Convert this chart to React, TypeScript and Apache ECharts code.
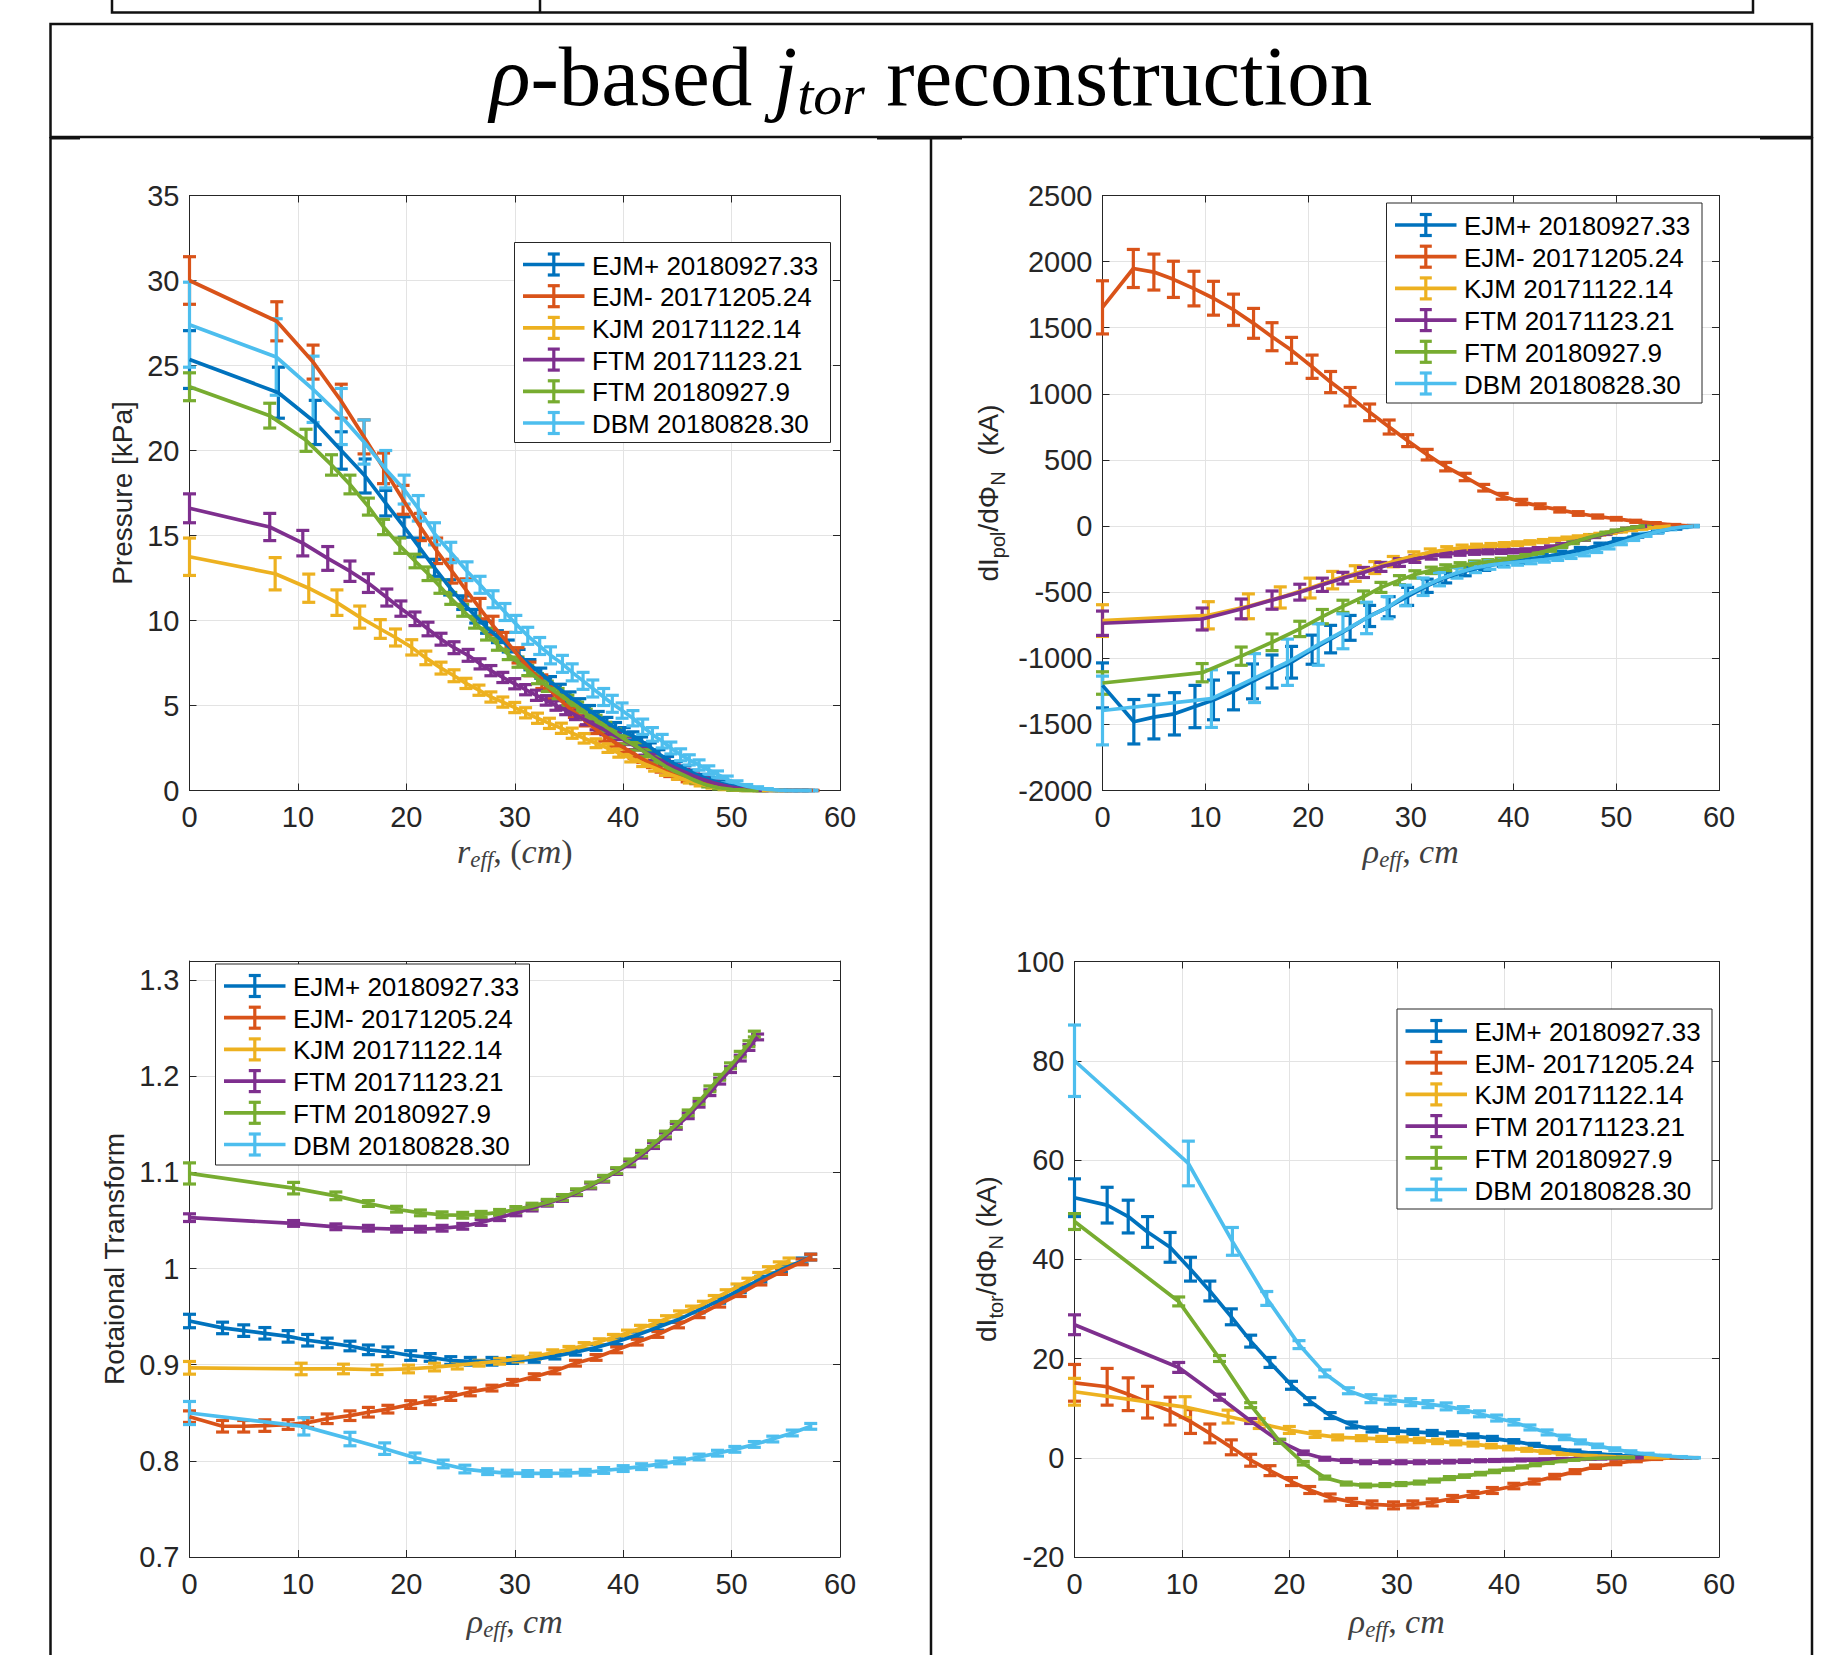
import React, { useEffect, useRef } from "react";
import * as echarts from "echarts";

// ---------- names & colours ----------
const SERIES_NAMES = [
  "EJM+ 20180927.33",
  "EJM- 20171205.24",
  "KJM 20171122.14",
  "FTM 20171123.21",
  "FTM 20180927.9",
  "DBM 20180828.30",
];
const COLORS = ["#0072BD", "#D95319", "#EDB120", "#7E2F8E", "#77AC30", "#4DBEEE"];

// ---------- Panel 1: Pressure [kPa] vs r_eff  ([x, y, err]) ----------
const P1_EJMp = [[0,25.35,1.7],[8.2,23.4,1.5],[11.6,21.65,1.3],[14.0,20.0,1.1],[16.2,18.5,1.0],[18.1,16.9,0.75],[19.8,15.5,0.6],[21.2,14.3,0.55],[22.6,13.1,0.5],[24.0,11.95,0.45],[25.2,11.05,0.4],[26.4,10.25,0.4],[27.4,9.6,0.35],[28.4,9.05,0.35],[29.4,8.5,0.35],[30.4,7.95,0.35],[31.4,7.4,0.3],[32.4,6.9,0.3],[33.3,6.4,0.3],[34.2,5.95,0.3],[35.1,5.5,0.3],[36.0,5.1,0.3],[36.9,4.7,0.3],[37.7,4.35,0.3],[38.5,4.0,0.3],[39.3,3.7,0.3],[40.1,3.45,0.25],[40.9,3.2,0.25],[41.7,2.9,0.25],[42.5,2.55,0.25],[43.3,2.15,0.25],[44.1,1.8,0.2],[44.9,1.5,0.2],[45.7,1.25,0.2],[46.5,1.0,0.2],[47.3,0.8,0.15],[48.1,0.6,0.15],[48.9,0.44,0.12],[49.7,0.31,0.1],[50.5,0.22,0.08],[51.3,0.14,0.06],[52.1,0.08,0.05],[52.9,0.04,0.04],[53.7,0.02,0.03],[54.6,0.01,0.02],[55.5,0,0.01],[56.3,0,0.01],[57.1,0,0.01]];
const P1_EJMm = [[0,30.0,1.4],[8.05,27.6,1.15],[11.4,25.2,1.0],[14.0,22.9,1.0],[16.1,20.8,1.0],[17.9,18.95,0.9],[19.7,17.1,0.85],[21.3,15.5,0.8],[22.8,14.1,0.75],[24.2,12.9,0.7],[25.5,11.8,0.65],[26.8,10.7,0.6],[28.0,9.7,0.55],[29.2,8.8,0.5],[30.3,7.95,0.45],[31.4,7.15,0.4],[32.5,6.4,0.4],[33.5,5.75,0.35],[34.5,5.15,0.35],[35.5,4.6,0.3],[36.5,4.1,0.3],[37.4,3.65,0.3],[38.3,3.2,0.3],[39.2,2.85,0.25],[40.1,2.5,0.25],[41.0,2.15,0.25],[41.8,1.85,0.2],[42.7,1.55,0.2],[43.5,1.28,0.2],[44.3,1.02,0.2],[45.1,0.82,0.15],[45.9,0.66,0.15],[46.7,0.52,0.12],[47.4,0.41,0.1],[48.2,0.31,0.1],[49.0,0.23,0.08],[49.7,0.16,0.06],[50.5,0.11,0.05],[51.2,0.07,0.04],[52.0,0.05,0.03],[52.7,0.03,0.02],[53.4,0.02,0.02],[54.2,0.01,0.01],[55.0,0,0.01],[55.7,0,0.01],[56.5,0,0.01],[57.5,0,0.01]];
const P1_KJM = [[0,13.75,1.1],[7.9,12.75,0.95],[11.0,11.9,0.83],[13.6,11.05,0.75],[15.7,10.2,0.65],[17.6,9.5,0.55],[19.0,9.0,0.5],[20.5,8.42,0.45],[21.8,7.8,0.4],[23.2,7.2,0.35],[24.4,6.75,0.35],[25.5,6.3,0.3],[26.7,5.9,0.3],[27.8,5.5,0.3],[28.9,5.2,0.3],[30.0,4.88,0.3],[31.0,4.57,0.3],[32.1,4.25,0.3],[33.2,3.95,0.3],[34.3,3.66,0.3],[35.3,3.37,0.3],[36.4,3.07,0.28],[37.5,2.78,0.26],[38.6,2.49,0.25],[39.6,2.2,0.24],[40.7,1.9,0.22],[41.8,1.61,0.2],[42.9,1.32,0.18],[43.9,1.05,0.16],[45.0,0.8,0.14],[46.1,0.56,0.12],[47.1,0.37,0.1],[48.2,0.22,0.08],[49.3,0.11,0.06],[50.4,0.05,0.04],[51.5,0.02,0.03],[52.6,0.01,0.02],[53.7,0,0.01],[54.8,0,0.01]];
const P1_FTM1 = [[0,16.6,0.85],[7.4,15.5,0.8],[10.45,14.55,0.75],[12.75,13.65,0.7],[14.8,12.9,0.6],[16.5,12.2,0.55],[18.2,11.35,0.5],[19.5,10.7,0.45],[20.8,10.1,0.4],[22.0,9.5,0.4],[23.2,8.9,0.35],[24.4,8.4,0.35],[25.7,7.95,0.35],[26.8,7.45,0.3],[27.8,7.05,0.3],[28.9,6.65,0.3],[30.0,6.28,0.3],[31.0,5.93,0.3],[32.0,5.6,0.3],[32.9,5.3,0.28],[33.8,5.0,0.28],[34.7,4.72,0.26],[35.6,4.43,0.26],[36.6,4.12,0.25],[37.5,3.82,0.25],[38.4,3.52,0.24],[39.3,3.22,0.23],[40.2,2.92,0.22],[41.1,2.6,0.2],[42.0,2.28,0.2],[42.9,1.95,0.18],[43.8,1.65,0.16],[44.7,1.36,0.15],[45.6,1.1,0.14],[46.5,0.85,0.12],[47.4,0.64,0.1],[48.3,0.46,0.08],[49.2,0.3,0.07],[50.1,0.18,0.05],[51.0,0.09,0.04],[51.9,0.04,0.03],[52.8,0.01,0.02]];
const P1_FTM2 = [[0,23.75,0.82],[7.4,22.05,0.73],[10.75,20.6,0.65],[13.1,19.15,0.6],[14.8,18.0,0.55],[16.5,16.7,0.5],[17.9,15.5,0.45],[19.4,14.4,0.45],[20.8,13.5,0.4],[22.0,12.75,0.4],[23.1,12.0,0.4],[24.1,11.3,0.35],[25.2,10.6,0.35],[26.3,9.9,0.35],[27.4,9.2,0.35],[28.4,8.6,0.35],[29.4,8.0,0.3],[30.3,7.55,0.3],[31.2,7.06,0.3],[32.1,6.58,0.3],[33.0,6.13,0.3],[34.0,5.7,0.3],[34.9,5.3,0.3],[35.8,4.9,0.3],[36.6,4.5,0.28],[37.5,4.14,0.28],[38.4,3.75,0.26],[39.3,3.37,0.25],[40.2,2.98,0.24],[41.2,2.6,0.22],[42.1,2.2,0.2],[43.0,1.8,0.18],[43.9,1.42,0.16],[44.8,1.13,0.15],[45.8,0.84,0.13],[46.7,0.56,0.11],[47.8,0.3,0.09],[48.8,0.16,0.07],[50.1,0.06,0.05],[51.3,0.02,0.03],[52.5,0,0.02]];
const P1_DBM = [[0,27.4,2.5],[8.0,25.5,2.25],[11.4,23.6,1.95],[14.0,22.0,1.65],[16.1,20.5,1.3],[18.1,18.9,1.1],[19.8,17.7,0.85],[21.1,16.6,0.75],[22.6,15.1,0.65],[24.1,14.0,0.6],[25.6,12.9,0.55],[26.8,12.1,0.5],[28.0,11.25,0.5],[29.1,10.5,0.5],[30.1,9.8,0.5],[31.2,9.1,0.5],[32.3,8.5,0.5],[33.3,7.95,0.5],[34.4,7.45,0.5],[35.3,6.95,0.5],[36.3,6.45,0.5],[37.2,6.0,0.5],[38.2,5.5,0.5],[39.0,5.1,0.5],[39.9,4.7,0.45],[40.9,4.25,0.45],[41.8,3.75,0.45],[42.7,3.3,0.4],[43.6,2.9,0.4],[44.4,2.5,0.35],[45.3,2.1,0.35],[46.1,1.8,0.3],[47.0,1.5,0.3],[47.9,1.2,0.25],[48.7,0.95,0.2],[49.6,0.65,0.2],[50.5,0.42,0.15],[51.4,0.25,0.1],[52.4,0.14,0.08],[53.3,0.06,0.05],[54.4,0.02,0.03],[55.5,0,0.02],[56.5,0,0.02],[57.4,0,0.02]];

// ---------- Panel 2: dIpol/dPhiN (kA) vs rho_eff ----------
const P2_EJMp = [[0,-1205,170],[3.05,-1480,168],[5.0,-1445,165],[7.0,-1420,160],[9.0,-1365,160],[10.8,-1315,150],[12.75,-1250,140],[14.6,-1175,132],[16.5,-1100,125],[18.4,-1030,120],[20.4,-935,110],[22.2,-855,104],[24.1,-770,94],[26.0,-680,80],[27.9,-610,76],[29.7,-532,68],[31.6,-452,50],[33.4,-390,40],[35.3,-342,34],[37.2,-305,30],[39.0,-278,26],[40.9,-258,24],[42.8,-236,22],[44.6,-210,20],[46.5,-180,18],[48.4,-145,16],[50.2,-108,14],[52.1,-72,12],[54.0,-42,10],[55.8,-16,8],[57.5,0,5]];
const P2_EJMm = [[0,1654,201],[3.0,1948,144],[5.0,1921,136],[6.9,1866,137],[8.9,1796,131],[10.8,1723,128],[12.75,1636,118],[14.7,1533,113],[16.5,1432,106],[18.4,1329,98],[20.4,1205,88],[22.2,1089,80],[24.1,978,70],[26.0,860,63],[27.9,749,53],[29.7,646,45],[31.6,540,40],[33.4,449,32],[35.3,371,28],[37.1,290,25],[38.9,225,22],[40.8,182,20],[42.6,150,18],[44.5,122,16],[46.3,95,14],[48.2,72,12],[50.0,55,10],[51.9,36,8],[53.8,20,6],[55.7,8,4],[57.5,0,2]];
const P2_KJM = [[0,-715,120],[10.3,-675,103],[14.2,-607,94],[17.3,-540,80],[20.2,-469,75],[22.4,-409,66],[24.6,-359,59],[26.5,-314,45],[28.3,-269,39],[30.3,-225,30],[31.9,-198,25],[33.5,-178,22],[35.0,-164,20],[36.4,-155,18],[37.8,-148,16],[39.1,-140,15],[40.4,-133,14],[41.6,-124,13],[42.9,-114,12],[44.0,-104,11],[45.2,-93,10],[46.3,-83,9],[47.4,-72,8],[48.4,-62,7],[49.5,-50,6],[50.5,-40,5],[51.5,-30,4],[52.5,-21,3],[53.4,-13,3],[54.4,-6,2],[55.3,0,2]];
const P2_FTM1 = [[0,-735,92],[9.7,-703,83],[13.5,-627,75],[16.5,-560,69],[19.2,-500,60],[21.4,-444,50],[23.4,-394,44],[25.4,-351,38],[27.1,-309,34],[28.9,-276,29],[30.4,-250,25],[32.0,-228,22],[33.4,-212,20],[34.8,-203,18],[36.2,-198,16],[37.5,-195,15],[38.8,-193,14],[40.0,-190,13],[41.2,-184,12],[42.4,-174,11],[43.6,-160,10],[44.7,-142,9],[45.8,-122,8],[46.9,-100,8],[47.9,-80,7],[49.0,-58,6],[50.0,-38,5],[51.0,-20,4],[52.0,-8,3],[53.0,0,2]];
const P2_FTM2 = [[0,-1187,85],[9.7,-1109,69],[13.5,-984,69],[16.5,-879,63],[19.2,-778,58],[21.4,-685,54],[23.4,-607,46],[25.4,-535,44],[27.1,-464,38],[28.9,-409,34],[30.4,-366,28],[32.0,-335,24],[33.4,-315,22],[34.8,-297,20],[36.2,-282,18],[37.5,-270,16],[38.8,-258,15],[40.0,-245,14],[41.2,-228,13],[42.4,-205,12],[43.6,-180,11],[44.7,-152,10],[45.8,-124,9],[46.9,-97,8],[47.9,-74,7],[49.0,-52,6],[50.0,-35,5],[51.0,-20,4],[52.0,-8,3],[52.8,0,2]];
const P2_DBM = [[0,-1395,260],[10.6,-1305,218],[14.8,-1150,185],[18.0,-1030,175],[21.0,-896,157],[23.4,-796,132],[25.7,-695,119],[27.7,-617,84],[29.5,-525,78],[31.2,-459,66],[32.8,-402,50],[34.5,-354,40],[36.3,-314,38],[37.7,-295,32],[39.1,-282,28],[40.4,-272,24],[41.7,-263,22],[43.0,-253,20],[44.3,-240,20],[45.6,-225,20],[46.9,-205,20],[48.1,-180,20],[49.3,-155,18],[50.5,-125,16],[51.7,-95,14],[52.9,-66,12],[54.1,-40,10],[55.3,-20,8],[56.4,-7,5],[57.5,0,3]];

// ---------- Panel 3: Rotational transform vs rho_eff ----------
const P3_EJMp = [[0,0.9455,0.007],[3.05,0.9383,0.006],[5.0,0.9355,0.006],[6.95,0.9327,0.006],[9.1,0.9295,0.006],[10.9,0.9255,0.006],[12.7,0.9227,0.005],[14.8,0.9195,0.005],[16.5,0.9155,0.005],[18.3,0.9135,0.005],[20.4,0.9096,0.005],[22.2,0.9076,0.004],[24.1,0.9044,0.004],[25.9,0.9036,0.004],[27.9,0.9036,0.004],[29.8,0.9044,0.003],[31.8,0.9056,0.003],[33.7,0.909,0.003],[35.6,0.913,0.003],[37.5,0.918,0.003],[39.4,0.924,0.003],[41.3,0.931,0.003],[43.2,0.939,0.003],[45.1,0.947,0.003],[47.0,0.957,0.003],[48.9,0.967,0.003],[50.8,0.978,0.003],[52.7,0.989,0.003],[54.6,0.999,0.003],[56.5,1.008,0.003],[57.3,1.012,0.003]];
const P3_EJMm = [[0,0.846,0.006],[3.05,0.836,0.006],[5.0,0.836,0.006],[6.95,0.8367,0.006],[9.1,0.8378,0.005],[10.9,0.8398,0.005],[12.7,0.8438,0.005],[14.8,0.847,0.005],[16.5,0.8506,0.005],[18.3,0.8538,0.004],[20.4,0.8586,0.004],[22.2,0.8625,0.004],[24.1,0.8669,0.004],[25.9,0.8717,0.004],[27.9,0.8757,0.003],[29.8,0.8817,0.003],[31.8,0.8876,0.003],[33.7,0.8936,0.003],[35.6,0.9016,0.003],[37.5,0.9076,0.003],[39.4,0.9155,0.003],[41.3,0.9235,0.003],[43.2,0.9315,0.003],[45.1,0.9414,0.003],[47.0,0.952,0.003],[48.9,0.963,0.003],[50.8,0.974,0.003],[52.7,0.986,0.003],[54.6,0.997,0.003],[56.5,1.007,0.003],[57.3,1.012,0.003]];
const P3_KJM = [[0,0.8968,0.0066],[10.3,0.8956,0.006],[14.2,0.8956,0.005],[17.3,0.8948,0.005],[20.2,0.8956,0.004],[22.6,0.8976,0.004],[24.7,0.8996,0.004],[26.7,0.9016,0.003],[28.6,0.9036,0.003],[30.3,0.906,0.003],[31.9,0.909,0.003],[33.5,0.9125,0.003],[35.0,0.916,0.003],[36.4,0.92,0.003],[37.8,0.924,0.003],[39.1,0.9285,0.003],[40.4,0.933,0.003],[41.6,0.938,0.003],[42.9,0.943,0.003],[44.0,0.948,0.003],[45.2,0.953,0.003],[46.3,0.958,0.003],[47.4,0.963,0.003],[48.4,0.969,0.003],[49.5,0.975,0.003],[50.5,0.981,0.003],[51.5,0.987,0.003],[52.5,0.993,0.003],[53.4,0.999,0.003],[54.4,1.004,0.003],[55.3,1.008,0.003]];
const P3_FTM1 = [[0,1.053,0.004],[9.6,1.047,0.003],[13.5,1.0435,0.003],[16.5,1.042,0.003],[19.1,1.041,0.003],[21.3,1.041,0.003],[23.3,1.042,0.003],[25.2,1.044,0.003],[26.9,1.048,0.003],[28.6,1.053,0.003],[30.1,1.058,0.003],[31.6,1.063,0.003],[33.0,1.068,0.003],[34.4,1.073,0.003],[35.7,1.079,0.003],[37.0,1.086,0.003],[38.2,1.093,0.003],[39.4,1.101,0.003],[40.6,1.109,0.003],[41.7,1.118,0.003],[42.8,1.128,0.003],[43.9,1.138,0.003],[44.9,1.148,0.003],[46.0,1.159,0.003],[47.0,1.171,0.003],[48.0,1.183,0.003],[48.9,1.195,0.003],[49.9,1.207,0.003],[50.8,1.219,0.003],[51.6,1.23,0.003],[52.4,1.241,0.003]];
const P3_FTM2 = [[0,1.099,0.011],[9.6,1.0837,0.006],[13.5,1.0757,0.004],[16.5,1.0677,0.003],[19.1,1.0618,0.003],[21.3,1.058,0.003],[23.3,1.056,0.003],[25.2,1.0555,0.003],[26.9,1.0565,0.003],[28.6,1.0585,0.003],[30.1,1.0615,0.003],[31.6,1.065,0.003],[33.0,1.069,0.003],[34.4,1.074,0.003],[35.7,1.08,0.003],[37.0,1.087,0.003],[38.2,1.094,0.003],[39.4,1.102,0.003],[40.6,1.111,0.003],[41.7,1.12,0.003],[42.8,1.13,0.003],[43.9,1.14,0.003],[44.9,1.15,0.003],[46.0,1.162,0.003],[47.0,1.174,0.003],[48.0,1.187,0.003],[48.9,1.199,0.003],[49.9,1.211,0.003],[50.8,1.223,0.003],[51.6,1.234,0.003],[52.1,1.244,0.003]];
const P3_DBM = [[0,0.8498,0.012],[10.55,0.8359,0.009],[14.8,0.8227,0.007],[18.0,0.8127,0.006],[20.8,0.8032,0.005],[23.4,0.7968,0.004],[25.4,0.7915,0.004],[27.5,0.7888,0.003],[29.3,0.7873,0.003],[31.2,0.7869,0.003],[32.9,0.7869,0.003],[34.7,0.7873,0.003],[36.5,0.7881,0.003],[38.2,0.79,0.003],[40.0,0.792,0.003],[41.7,0.794,0.003],[43.5,0.7968,0.003],[45.2,0.8,0.003],[47.0,0.804,0.003],[48.7,0.808,0.003],[50.3,0.812,0.003],[52.1,0.8171,0.003],[53.8,0.8227,0.003],[55.6,0.829,0.003],[57.3,0.8359,0.003]];

// ---------- Panel 4: dItor/dPhiN (kA) vs rho_eff ----------
const P4_EJMp = [[0,52.4,3.8],[3.04,50.9,3.6],[5.0,48.6,3.3],[6.8,45.5,3.1],[8.9,42.4,3.0],[10.8,38.0,2.4],[12.6,33.6,2.0],[14.6,28.4,1.6],[16.4,23.5,1.2],[18.2,19.2,1.0],[20.2,14.6,0.8],[21.9,11.4,0.7],[23.8,8.5,0.6],[25.8,6.6,0.6],[27.7,5.7,0.5],[29.7,5.4,0.5],[31.5,5.2,0.5],[33.3,5.0,0.5],[35.2,4.8,0.45],[37.1,4.4,0.4],[38.9,3.9,0.4],[40.9,3.3,0.35],[42.8,2.6,0.3],[44.7,1.9,0.3],[46.6,1.3,0.25],[48.5,0.85,0.2],[50.4,0.5,0.15],[52.3,0.25,0.1],[54.2,0.1,0.08],[56.1,0.02,0.05],[57.5,0,0.03]];
const P4_EJMm = [[0,15.1,3.7],[3.04,14.3,3.7],[5.0,12.8,3.3],[6.8,11.2,3.2],[8.9,9.4,2.8],[10.8,7.3,2.4],[12.6,4.9,1.9],[14.6,2.1,1.5],[16.4,-0.5,1.2],[18.2,-2.6,1.0],[20.2,-4.8,0.8],[21.9,-6.5,0.7],[23.8,-8.0,0.7],[25.8,-8.9,0.7],[27.7,-9.4,0.7],[29.7,-9.6,0.7],[31.5,-9.4,0.7],[33.3,-9.0,0.7],[35.2,-8.2,0.6],[37.1,-7.4,0.6],[38.9,-6.6,0.6],[40.9,-5.7,0.55],[42.8,-4.8,0.5],[44.7,-3.8,0.45],[46.6,-2.8,0.4],[48.5,-1.8,0.35],[50.4,-1.1,0.3],[52.3,-0.6,0.2],[54.2,-0.2,0.15],[56.1,0,0.1],[57.5,0,0.05]];
const P4_KJM = [[0,13.3,2.7],[10.3,10.2,2.1],[14.3,8.3,1.3],[17.2,6.9,1.0],[20.0,5.6,0.7],[22.4,4.7,0.6],[24.5,4.1,0.5],[26.7,3.95,0.5],[28.6,3.8,0.5],[30.5,3.7,0.5],[32.1,3.5,0.45],[33.8,3.3,0.45],[35.5,3.0,0.4],[37.1,2.75,0.4],[38.8,2.35,0.35],[40.4,1.95,0.35],[42.1,1.6,0.3],[43.8,1.2,0.3],[45.4,0.85,0.25],[47.1,0.55,0.2],[48.7,0.37,0.15],[50.4,0.2,0.12],[52.1,0.1,0.1],[53.7,0.04,0.08],[55.4,0,0.05]];
const P4_FTM1 = [[0,26.8,2.0],[9.7,18.2,1.0],[13.5,12.2,0.6],[16.4,7.4,0.5],[19.1,3.3,0.4],[21.3,1.0,0.35],[23.3,-0.2,0.3],[25.3,-0.65,0.3],[27.1,-0.9,0.3],[28.9,-0.9,0.3],[30.4,-0.9,0.3],[32.1,-0.9,0.3],[33.5,-0.85,0.25],[34.9,-0.8,0.25],[36.3,-0.7,0.25],[37.8,-0.6,0.2],[39.1,-0.55,0.2],[40.3,-0.5,0.2],[41.5,-0.45,0.2],[42.7,-0.4,0.15],[43.8,-0.36,0.15],[44.9,-0.32,0.15],[46.0,-0.28,0.12],[47.0,-0.24,0.12],[48.0,-0.2,0.1],[49.0,-0.15,0.1],[50.0,-0.1,0.08],[51.0,-0.06,0.06],[52.0,-0.03,0.05],[53.0,0,0.04]];
const P4_FTM2 = [[0,47.6,1.6],[9.7,31.5,0.9],[13.5,20.0,0.6],[16.4,10.6,0.5],[19.1,3.3,0.4],[21.3,-1.1,0.35],[23.3,-4.0,0.3],[25.3,-5.2,0.3],[27.1,-5.6,0.3],[28.9,-5.5,0.3],[30.4,-5.3,0.3],[32.1,-5.0,0.3],[33.5,-4.6,0.3],[34.9,-4.1,0.3],[36.3,-3.7,0.25],[37.8,-3.2,0.25],[39.1,-2.75,0.25],[40.4,-2.3,0.2],[41.7,-1.85,0.2],[42.9,-1.4,0.2],[44.1,-1.0,0.15],[45.3,-0.65,0.15],[46.5,-0.4,0.12],[47.6,-0.2,0.1],[48.8,-0.1,0.08],[49.9,-0.05,0.06],[51.1,0,0.05],[52.2,0,0.04]];
const P4_DBM = [[0,80.0,7.2],[10.6,59.3,4.5],[14.7,43.6,2.8],[17.9,32.1,1.4],[20.9,22.8,0.8],[23.3,17.0,0.7],[25.5,13.5,0.6],[27.6,11.9,0.8],[29.4,11.6,0.8],[31.3,11.2,0.7],[32.9,10.8,0.7],[34.6,10.35,0.7],[36.2,9.7,0.6],[37.7,8.85,0.6],[39.3,8.0,0.6],[40.9,7.15,0.55],[42.4,6.1,0.5],[44.0,5.1,0.5],[45.6,4.1,0.45],[47.1,3.2,0.4],[48.7,2.4,0.35],[50.3,1.7,0.3],[51.8,1.15,0.25],[53.4,0.7,0.2],[55.0,0.35,0.15],[56.5,0.14,0.1],[57.7,0,0.05]];

// ---------- axis ranges ----------
const X_RANGE = { min: 0, max: 60, interval: 10 };
const Y_RANGES = [
  { min: 0, max: 35, interval: 5 },
  { min: -2000, max: 2500, interval: 500 },
  { min: 0.7, max: 1.32, interval: 0.1 },
  { min: -20, max: 100, interval: 20 },
];

const PANEL_DATA = [
  [P1_EJMp, P1_EJMm, P1_KJM, P1_FTM1, P1_FTM2, P1_DBM],
  [P2_EJMp, P2_EJMm, P2_KJM, P2_FTM1, P2_FTM2, P2_DBM],
  [P3_EJMp, P3_EJMm, P3_KJM, P3_FTM1, P3_FTM2, P3_DBM],
  [P4_EJMp, P4_EJMm, P4_KJM, P4_FTM1, P4_FTM2, P4_DBM],
];

// ---------- layout (pixels) ----------
const GRIDS = [
  { left: 189.5, top: 195.5, width: 650.5, height: 595 },
  { left: 1102.5, top: 195.5, width: 616.5, height: 595 },
  { left: 189.5, top: 961, width: 650.5, height: 596 },
  { left: 1074.5, top: 961.5, width: 644.5, height: 595.5 },
];
const LEGENDS = [
  [514.5, 242.5, 316, 200],
  [1386.5, 203, 315.5, 200],
  [215.5, 964, 314, 201],
  [1397, 1009, 315, 200],
];

const TICK_COLOR = "#262626";
const SANS = "'Liberation Sans', Arial, Helvetica, sans-serif";
const SERIF = "'Liberation Serif', 'Times New Roman', serif";
const LINE_W = 3.7;
const ERR_W = 3.2;

function errRender(color: string) {
  return (params: any, api: any) => {
    const x = api.value(0);
    const y = api.value(1);
    const e = api.value(2);
    const top = api.coord([x, y + e]);
    const bot = api.coord([x, y - e]);
    const cw = 6.5;
    const style = { stroke: color, lineWidth: ERR_W, fill: null };
    return {
      type: "group",
      children: [
        { type: "line", shape: { x1: top[0], y1: top[1], x2: bot[0], y2: bot[1] }, style },
        { type: "line", shape: { x1: top[0] - cw, y1: top[1], x2: top[0] + cw, y2: top[1] }, style },
        { type: "line", shape: { x1: bot[0] - cw, y1: bot[1], x2: bot[0] + cw, y2: bot[1] }, style },
      ],
    };
  };
}

function legendEls(box: number[]) {
  const [bx, by, bw, bh] = box;
  const els: any[] = [
    {
      type: "rect",
      z: 100,
      shape: { x: bx, y: by, width: bw, height: bh },
      style: { fill: "#ffffff", stroke: "#262626", lineWidth: 1 },
    },
  ];
  SERIES_NAMES.forEach((name, i) => {
    const cy = by + 22 + i * 31.7;
    const st = { stroke: COLORS[i], lineWidth: LINE_W };
    const cx = bx + 39.3;
    els.push({ type: "line", z: 101, shape: { x1: bx + 8.5, y1: cy, x2: bx + 70, y2: cy }, style: st });
    els.push({ type: "line", z: 101, shape: { x1: cx, y1: cy - 10.5, x2: cx, y2: cy + 10.5 }, style: { stroke: COLORS[i], lineWidth: ERR_W } });
    els.push({ type: "line", z: 101, shape: { x1: cx - 6, y1: cy - 10.5, x2: cx + 6, y2: cy - 10.5 }, style: { stroke: COLORS[i], lineWidth: ERR_W } });
    els.push({ type: "line", z: 101, shape: { x1: cx - 6, y1: cy + 10.5, x2: cx + 6, y2: cy + 10.5 }, style: { stroke: COLORS[i], lineWidth: ERR_W } });
    els.push({
      type: "text",
      z: 101,
      x: bx + 77.5,
      y: cy + 1,
      style: {
        text: name,
        fontFamily: SANS,
        fontSize: 26,
        fill: "#000000",
        align: "left",
        verticalAlign: "middle",
        textAlign: "left",
        textVerticalAlign: "middle",
      },
    });
  });
  return els;
}

function xLabel(x: number, y: number, text: string) {
  return {
    type: "text",
    x,
    y,
    z: 50,
    style: {
      text,
      fontFamily: SERIF,
      fontSize: 34,
      fill: "#404040",
      lineHeight: 40,
      align: "center",
      verticalAlign: "middle",
      textAlign: "center",
      textVerticalAlign: "middle",
      rich: {
        i: { fontFamily: SERIF, fontStyle: "italic", fontSize: 34, lineHeight: 40, fill: "#404040" },
        s: { fontFamily: SERIF, fontStyle: "italic", fontSize: 23, lineHeight: 22, verticalAlign: "bottom", fill: "#404040" },
        n: { fontFamily: SERIF, fontSize: 34, lineHeight: 40, fill: "#404040" },
      },
    },
  };
}

function yLabel(x: number, y: number, text: string) {
  return {
    type: "text",
    x,
    y,
    z: 50,
    rotation: Math.PI / 2,
    style: {
      text,
      fontFamily: SANS,
      fontSize: 28,
      fill: TICK_COLOR,
      lineHeight: 40,
      align: "center",
      verticalAlign: "middle",
      textAlign: "center",
      textVerticalAlign: "middle",
      rich: {
        s: { fontFamily: SANS, fontSize: 20, lineHeight: 20, verticalAlign: "bottom", fill: TICK_COLOR },
      },
    },
  };
}

function buildOption() {
  const grid = GRIDS.map((g) => ({ ...g, containLabel: false, show: false }));
  const xAxis: any[] = [];
  const yAxis: any[] = [];
  const series: any[] = [];
  const axisLine = { show: true, onZero: false, lineStyle: { color: TICK_COLOR, width: 1 } };
  const axisTick = { show: true, inside: true, length: 7, lineStyle: { color: TICK_COLOR, width: 1 } };
  const splitLine = { show: true, lineStyle: { color: "#e3e3e3", width: 1 } };

  for (let p = 0; p < 4; p++) {
    const yr = Y_RANGES[p];
    const yFmt =
      p === 2
        ? (v: number) => (Math.abs(v * 10 - Math.round(v * 10)) > 1e-6 ? "" : String(+v.toFixed(1)))
        : (v: number) => String(v);
    xAxis.push({
      type: "value", gridIndex: p, position: "bottom", ...X_RANGE,
      axisLine, axisTick, splitLine,
      axisLabel: { show: true, fontFamily: SANS, fontSize: 29, color: TICK_COLOR, margin: 12, formatter: (v: number) => String(v) },
    });
    xAxis.push({
      type: "value", gridIndex: p, position: "top", ...X_RANGE,
      axisLine, axisTick, splitLine: { show: false }, axisLabel: { show: false },
    });
    yAxis.push({
      type: "value", gridIndex: p, position: "left", ...yr,
      axisLine, axisTick, splitLine,
      axisLabel: { show: true, fontFamily: SANS, fontSize: 29, color: TICK_COLOR, margin: 10, formatter: yFmt },
    });
    yAxis.push({
      type: "value", gridIndex: p, position: "right", ...yr,
      axisLine, axisTick, splitLine: { show: false }, axisLabel: { show: false },
    });

    PANEL_DATA[p].forEach((arr, i) => {
      const color = COLORS[i];
      series.push({
        type: "line",
        name: SERIES_NAMES[i],
        xAxisIndex: 2 * p,
        yAxisIndex: 2 * p,
        data: arr.map((d) => [d[0], d[1]]),
        symbol: "none",
        showSymbol: false,
        lineStyle: { color, width: LINE_W },
        itemStyle: { color },
        silent: true,
        emphasis: { disabled: true },
        animation: false,
      });
      series.push({
        type: "custom",
        name: SERIES_NAMES[i] + " err",
        xAxisIndex: 2 * p,
        yAxisIndex: 2 * p,
        data: arr,
        encode: { x: 0, y: 1 },
        renderItem: errRender(color),
        silent: true,
        animation: false,
      });
    });
  }

  const frame = { stroke: "#111111", lineWidth: 2.5, fill: "none" };
  const graphic: any[] = [
    { type: "polyline", shape: { points: [[112, 0], [112, 12.5], [1753, 12.5], [1753, 0]] }, style: frame },
    { type: "line", shape: { x1: 540, y1: 0, x2: 540, y2: 12.5 }, style: frame },
    { type: "rect", shape: { x: 50.5, y: 24, width: 1761.5, height: 113 }, style: frame },
    { type: "line", shape: { x1: 50.5, y1: 137, x2: 50.5, y2: 1655 }, style: frame },
    { type: "line", shape: { x1: 931, y1: 137, x2: 931, y2: 1655 }, style: frame },
    { type: "line", shape: { x1: 1812, y1: 137, x2: 1812, y2: 1655 }, style: frame },
    { type: "line", shape: { x1: 50.5, y1: 138.5, x2: 80, y2: 138.5 }, style: { stroke: "#111", lineWidth: 2 } },
    { type: "line", shape: { x1: 877, y1: 138.5, x2: 962, y2: 138.5 }, style: { stroke: "#111", lineWidth: 2 } },
    { type: "line", shape: { x1: 1760, y1: 138.5, x2: 1812, y2: 138.5 }, style: { stroke: "#111", lineWidth: 2 } },
    {
      type: "text",
      x: 931,
      y: 76,
      style: {
        text: "{i|ρ}-based {i|j}{s|tor} reconstruction",
        fontFamily: SERIF,
        fontSize: 85,
        lineHeight: 94,
        fill: "#000000",
        align: "center",
        verticalAlign: "middle",
        textAlign: "center",
        textVerticalAlign: "middle",
        rich: {
          i: { fontFamily: SERIF, fontStyle: "italic", fontSize: 85, lineHeight: 94, fill: "#000" },
          s: { fontFamily: SERIF, fontStyle: "italic", fontSize: 58, lineHeight: 60, verticalAlign: "bottom", fill: "#000" },
        },
      },
    },
    xLabel(514.8, 851, "{i|r}{s|eff}{n|, (}{i|cm}{n|)}"),
    xLabel(1410.8, 851, "{i|ρ}{s|eff}{n|, }{i|cm}"),
    xLabel(514.8, 1621, "{i|ρ}{s|eff}{n|, }{i|cm}"),
    xLabel(1396.8, 1621, "{i|ρ}{s|eff}{n|, }{i|cm}"),
    yLabel(122, 493, "Pressure [kPa]"),
    yLabel(988, 493, "dI{s|pol}/dΦ{s|N}  (kA)"),
    yLabel(114, 1259, "Rotaional Transform"),
    yLabel(986, 1259, "dI{s|tor}/dΦ{s|N} (kA)"),
  ];
  LEGENDS.forEach((b) => graphic.push(...legendEls(b)));

  return {
    animation: false,
    backgroundColor: "#ffffff",
    grid,
    xAxis,
    yAxis,
    series,
    graphic,
  };
}

export default function App() {
  const ref = useRef<HTMLDivElement>(null);
  useEffect(() => {
    document.body.style.margin = "0";
    if (!ref.current) return;
    const chart = echarts.init(ref.current, null, { renderer: "svg", width: 1845, height: 1655 });
    chart.setOption(buildOption() as any);
    return () => {
      chart.dispose();
    };
  }, []);
  return <div ref={ref} style={{ width: 1845, height: 1655, background: "#fff" }} />;
}
